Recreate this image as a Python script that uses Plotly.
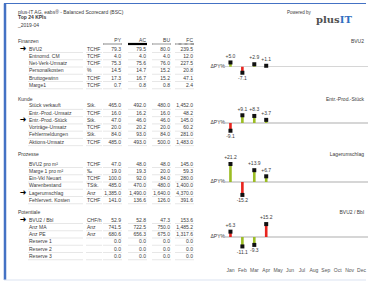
import plotly.graph_objects as go

W, H = 368, 282

# ---------------- data ----------------
months = ["Jan", "Feb", "Mar", "Apr", "May", "Jun", "Jul", "Aug", "Sep", "Oct", "Nov", "Dec"]
col_labels = ["PY", "AC", "BU", "FC"]

section_names = ["Finanzen", "Kunde", "Prozesse", "Potentiale"]
chart_names = ["BVU2", "Entr.-Prod.-Stück", "Lagerumschlag", "BVU2 / Bbl"]

fin_kpis = ["BVU2", "Entnomd. CM", "Net-Verk-Umsatz", "Personalkosten", "Bruttogewinn", "Marge1"]
fin_units = ["TCHF", "TCHF", "TCHF", "%", "TCHF", "TCHF"]
fin_py = [79.3, 4.0, 75.3, 14.5, 17.3, 0.7]
fin_ac = [79.5, 4.0, 75.6, 14.7, 16.7, 0.8]
fin_bu = [80.0, 4.0, 76.0, 15.2, 15.2, 0.8]
fin_fc = [239.5, 12.0, 227.5, 20.8, 47.1, 2.4]

kun_kpis = ["Stück verkauft", "Entr.-Prod.-Umsatz", "Entr.-Prod.-Stück", "Vorträge-Umsatz", "Fehlermeldungen", "Aktions-Umsatz"]
kun_units = ["Stk.", "TCHF", "Stk.", "TCHF", "Stk.", "TCHF"]
kun_py = [465.0, 16.0, 47.0, 20.0, 84.0, 485.0]
kun_ac = [492.0, 16.2, 46.0, 20.2, 93.0, 493.0]
kun_bu = [480.0, 16.0, 46.0, 20.0, 84.0, 500.0]
kun_fc = [1452.0, 48.2, 145.0, 60.2, 281.0, 1483.0]

pro_kpis = ["BVU2 pro m²", "Marge 1 pro m²", "Ein-Vkl Neuart", "Warenbestand", "Lagerumschlag", "Fehlervert. Kosten"]
pro_units = ["TCHF", "‰", "TCHF", "TStk.", "Anz", "TCHF"]
pro_py = [47.0, 19.0, 100.0, 485.0, 1385.0, 141.0]
pro_ac = [48.0, 19.3, 92.0, 470.0, 1490.0, 136.6]
pro_bu = [48.0, 20.0, 84.0, 480.0, 1640.0, 126.0]
pro_fc = [145.0, 59.3, 280.0, 1400.0, 4370.0, 391.6]

pot_kpis = ["BVU2 / Bbl", "Anz MA", "Anz PE", "Reserve 1", "Reserve 2", "Reserve 3"]
pot_units = ["CHF/h", "Anz", "Anz", "", "", ""]
pot_py = [52.9, 741.5, 680.6, 0.0, 0.0, 0.0]
pot_ac = [52.8, 722.5, 656.3, 0.0, 0.0, 0.0]
pot_bu = [47.3, 750.0, 675.0, 0.0, 0.0, 0.0]
pot_fc = [153.6, 1485.2, 1317.6, 0.0, 0.0, 0.0]

highlight_rows = [0, 2, 4, 0]

dpy_months = ["Jan", "Feb", "Mar", "Apr"]
dpy_fin = [5.0, -7.1, 2.9, 1.1]
dpy_kun = [-9.1, 9.1, 8.3, 3.7]
dpy_pro = [21.2, -15.2, 13.9, 6.7]
dpy_pot = [6.3, -11.1, -9.3, 15.2]
higher_is_better = [True, True, True, False]

# ---------------- layout constants ----------------
FONT = "Liberation Sans, Arial, sans-serif"
TXT = "#3a3a3a"
GREEN = "#9cbd24"
RED = "#e8251f"
sec_title_y = [41.5, 99.3, 154.5, 212.5]
first_row_y = [49.3, 106.2, 164.3, 220.3]
row_pitch = 7.25
baseline_y = [66.7, 123.0, 182.0, 237.0]
x_title, x_arrow, x_name, x_unit = 18, 23, 29, 87
col_right = [121, 146, 170, 193]
chart_x0, chart_x1 = 224.5, 367.5
px_per_unit = 0.85
legend_y = 44.0

sections = [
    (fin_kpis, fin_units, [fin_py, fin_ac, fin_bu, fin_fc]),
    (kun_kpis, kun_units, [kun_py, kun_ac, kun_bu, kun_fc]),
    (pro_kpis, pro_units, [pro_py, pro_ac, pro_bu, pro_fc]),
    (pot_kpis, pot_units, [pot_py, pot_ac, pot_bu, pot_fc]),
]
dpy_all = [dpy_fin, dpy_kun, dpy_pro, dpy_pot]

fig = go.Figure()
OV = dict(xaxis="x5", yaxis="y5")


def txt(x, y, text, pos, size=5, color=TXT, family=FONT):
    fig.add_trace(go.Scatter(x=x, y=y, text=text, mode="text", textposition=pos,
                             textfont=dict(size=size, color=color, family=family),
                             hoverinfo="skip", showlegend=False, cliponaxis=False, **OV))


def hline(x0, x1, y, color, width, dash="solid"):
    fig.add_trace(go.Scatter(x=[x0, x1], y=[y, y], mode="lines",
                             line=dict(color=color, width=width, dash=dash),
                             hoverinfo="skip", showlegend=False, cliponaxis=False, **OV))


# title block
txt([18], [12.5], ["plus-IT AG, eabs® - Balanced Scorecard (BSC)"], "middle right")
txt([18], [18.0], ["<b>Top 24 KPIs</b>"], "middle right")
txt([18], [25.5], ["_2019-04"], "middle right")
txt([287], [12.5], ["Powered by"], "middle right", size=4.5)

# section titles and chart names
txt([x_title] * 4, sec_title_y, section_names, "middle right")
txt([364] * 4, sec_title_y, chart_names, "middle left")

# header labels + legend bars
txt(col_right, [40.6] * 4, col_labels, "middle left")
legend_outer = ["#a0a0a0", "#000000", "#a0a0a0", "#a0a0a0"]
legend_inner = ["#f0f0f0", None, "#ffffff", "#ffffff"]
legend_dash = ["solid", "solid", "solid", "dot"]
for c, xr in enumerate(col_right):
    hline(xr - 18, xr + 1, legend_y, legend_outer[c], 2.0 if c != 1 else 2.2)
    if legend_inner[c]:
        hline(xr - 17.5, xr + 0.5, legend_y, legend_inner[c], 0.9, legend_dash[c])

# table rows
ul_x, ul_y = [], []
for s, (names, units, cols) in enumerate(sections):
    ys = [first_row_y[s] + i * row_pitch for i in range(len(names))]
    txt([x_name] * len(names), ys, names, "middle right")
    txt([x_unit] * len(names), ys, units, "middle right")
    for c, vals in enumerate(cols):
        txt([col_right[c]] * len(vals), ys, [f"{v:,.1f}" for v in vals], "middle left")
    hy = ys[highlight_rows[s]]
    txt([x_arrow], [hy - 0.5], ["➜"], "middle center", size=8, color="#000000", family="DejaVu Sans")
    for y in ys:
        segs = [(x_name - 1, 83), (x_unit - 1, 102)] + [(c - 18, c + 1) for c in col_right]
        for a, b in segs:
            ul_x += [a, b, None]
            ul_y += [y + 3.2, y + 3.2, None]
fig.add_trace(go.Scatter(x=ul_x, y=ul_y, mode="lines", line=dict(color="#dcdcdc", width=0.7),
                         hoverinfo="skip", showlegend=False, **OV))

# ΔPY% labels
txt([225] * 4, baseline_y, ["ΔPY%"] * 4, "middle left")

# logo
fig.add_annotation(x=334, y=19, xref="x5", yref="y5", showarrow=False,
                   text="<b>plus<span style='color:#2f6fc0'>IT</span></b>",
                   font=dict(family="DejaVu Serif", size=10, color="#505050"))

# ---------------- charts ----------------
for i in range(4):
    vals = dpy_all[i]
    good = [(v >= 0) == higher_is_better[i] for v in vals]
    colors = [GREEN if g else RED for g in good]
    b = baseline_y[i]
    top_pad = 28
    bot_pad = 29 if i == 3 else 16
    ax = str(i + 1)
    fig.add_trace(go.Bar(x=dpy_months, y=vals, width=0.22, marker=dict(color=colors, line=dict(width=0)),
                         hoverinfo="skip", showlegend=False, xaxis="x" + ax, yaxis="y" + ax))
    fig.add_trace(go.Scatter(x=dpy_months, y=vals, mode="markers+text",
                             marker=dict(symbol="square", size=4, color="#111111"),
                             text=[f"{v:+.1f}" for v in vals],
                             textposition=["top center" if v >= 0 else "bottom center" for v in vals],
                             textfont=dict(size=5, color=TXT, family=FONT),
                             hoverinfo="skip", showlegend=False, cliponaxis=False,
                             xaxis="x" + ax, yaxis="y" + ax))
    fig.layout["xaxis" + ax] = dict(
        domain=[chart_x0 / W, chart_x1 / W], type="category", categoryorder="array",
        categoryarray=months, range=[-0.5, 11.5], showgrid=False, zeroline=False,
        showline=False, ticks="", showticklabels=(i == 3),
        tickfont=dict(size=5, color="#555555", family=FONT), anchor="y" + ax, fixedrange=True)
    fig.layout["yaxis" + ax] = dict(
        domain=[1 - (b + bot_pad) / H, 1 - (b - top_pad) / H],
        range=[-bot_pad / px_per_unit, top_pad / px_per_unit],
        showgrid=False, zeroline=True, zerolinecolor="#d6d6d6", zerolinewidth=1.5,
        showticklabels=False, showline=False, anchor="x" + ax, fixedrange=True)

# overlay pixel axes
fig.layout["xaxis5"] = dict(domain=[0, 1], range=[0, W], visible=False, fixedrange=True, anchor="y5")
fig.layout["yaxis5"] = dict(domain=[0, 1], range=[H, 0], visible=False, fixedrange=True, anchor="x5")

# frame
fig.add_shape(type="line", xref="x5", yref="y5", x0=4, x1=366, y0=3.5, y1=3.5,
              line=dict(color="#4472c4", width=1))
fig.add_shape(type="line", xref="x5", yref="y5", x0=5, x1=5, y0=3.5, y1=280,
              line=dict(color="#4472c4", width=2.5))
fig.add_shape(type="line", xref="x5", yref="y5", x0=4, x1=366, y0=280, y1=280,
              line=dict(color="#dbe3f1", width=1))

fig.update_layout(width=W, height=H, margin=dict(l=0, r=0, t=0, b=0, pad=0),
                  paper_bgcolor="white", plot_bgcolor="rgba(0,0,0,0)",
                  barmode="overlay", showlegend=False)

fig.write_html("out.html", config={"displayModeBar": False, "staticPlot": True},
               post_script="document.body.style.margin='0';document.body.style.overflow='hidden';")
